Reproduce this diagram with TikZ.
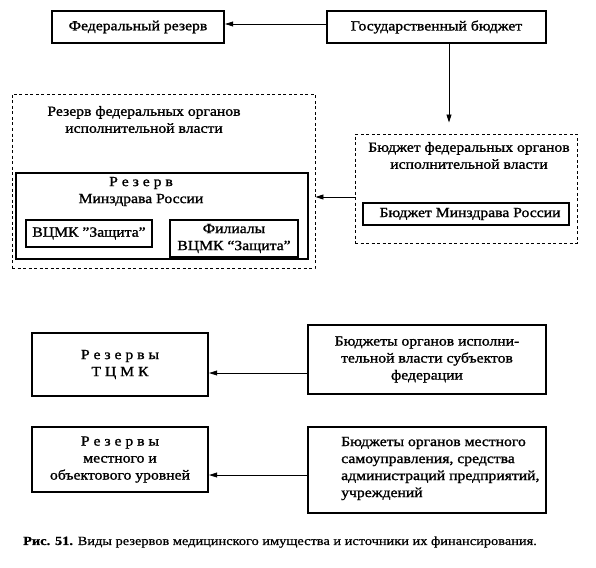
\documentclass[tikz,border=0pt]{standalone}
\usepackage{fontspec}
\setmainfont{Liberation Serif}[FakeBold=1.3, FakeStretch=1.12]
\newfontfamily\captionfont{Liberation Serif}[FakeBold=0.6, FakeStretch=1.15]
\usetikzlibrary{positioning,arrows.meta,calc}
\tikzstyle{element} = [rectangle, draw=black, line width=2.3pt, align=center, inner sep=0pt, font=\fontsize{14}{17}\selectfont]
\tikzstyle{thin_element} = [element, line width=1.2pt]
\tikzstyle{group} = [rectangle, draw=black, dash pattern=on 3pt off 2.5pt, line width=0.9pt, inner sep=0pt]
\tikzstyle{group_title} = [align=center, inner sep=0pt, font=\fontsize{14}{17}\selectfont]
\tikzstyle{arrow} = [-{Triangle[length=8pt,width=5pt]}, line width=0.8pt]

\begin{document}
\begin{tikzpicture}[x=1pt, y=-1pt]
        \useasboundingbox[fill=white] (0,0) rectangle (596,567);
        % Top ------------------------------------------------------------------------------------
        \node[element, minimum width=172pt, minimum height=32pt] (fed_reserve) at (138,27) {Федеральный резерв};
        \node[element, minimum width=219pt, minimum height=32pt] (state_budget) at (436.5,27) {Государственный бюджет};
        % Federal executive reserve group
        \node[group, minimum width=303pt, minimum height=174pt] (fed_exec_reserve) at (163.5,181) {};
        \node[group_title] (fed_exec_reserve_title) at (144,119.5) {Резерв федеральных органов\\исполнительной власти};
        \node[element, minimum width=292pt, minimum height=86pt] (mz_reserve) at (162,216) {};
        \node[group_title] (mz_reserve_title) at (141,191.5) {Р е з е р в\hspace{10pt}\\Минздрава России};
        \node[thin_element, minimum width=126pt, minimum height=27pt] (vcmk) at (89,233.5) {ВЦМК "Защита"};
        \node[thin_element, minimum width=128pt, minimum height=37pt] (filials) at (234,238.5) {Филиалы\\ВЦМК “Защита”};
        % Federal executive budget group
        \node[group, minimum width=222pt, minimum height=109pt] (fed_exec_budget) at (466,188.5) {};
        \node[group_title] (fed_exec_budget_title) at (469,155.5) {Бюджет федеральных органов\\исполнительной власти};
        \node[element, minimum width=206pt, minimum height=22pt] (mz_budget) at (466,214) {\hspace{8pt}Бюджет Минздрава России};
        % Bottom ---------------------------------------------------------------------------------
        \node[element, minimum width=176pt, minimum height=63pt] (tcmk_reserve) at (120,364.5) {Р е з е р в ы\\Т Ц М К};
        \node[element, minimum width=238pt, minimum height=69pt] (subj_budget) at (427,359.5) {Бюджеты органов исполни-\\тельной власти субъектов\\федерации};
        \node[element, minimum width=176pt, minimum height=65pt] (local_reserve) at (120,459.5) {Р е з е р в ы\\местного и\\объектового уровней};
        \node[element, minimum width=238pt, minimum height=86pt] (local_budget) at (427,470) {};
        \node[group_title, align=left, anchor=west] (local_budget_text) at (341,468.5) {Бюджеты органов местного\\самоуправления, средства\\администраций предприятий,\\учреждений};
        % Caption --------------------------------------------------------------------------------
        \node[inner sep=0pt, font=\captionfont\fontsize{12.5}{15}\selectfont] (caption) at (280,542) {\textbf{Рис. 51.} Виды резервов медицинского имущества и источники их финансирования.};
        % Arrows ---------------------------------------------------------------------------------
        \draw[arrow] ([yshift=3pt]state_budget.west) -- ([yshift=3pt]fed_reserve.east);
        \draw[arrow, shorten >=11pt] ([xshift=12.5pt]state_budget.south) -- ([xshift=12.5pt]state_budget.south |- fed_exec_budget.north);
        \draw[arrow] ([yshift=-8.5pt]fed_exec_budget.west) -- ([yshift=-8.5pt]fed_exec_budget.west -| fed_exec_reserve.east);
        \draw[arrow] ([yshift=-13.5pt]subj_budget.west) -- ([yshift=-13.5pt]subj_budget.west -| tcmk_reserve.east);
        \draw[arrow] ([yshift=-5pt]local_budget.west) -- ([yshift=-5pt]local_budget.west -| local_reserve.east);
    \end{tikzpicture}
\end{document}
